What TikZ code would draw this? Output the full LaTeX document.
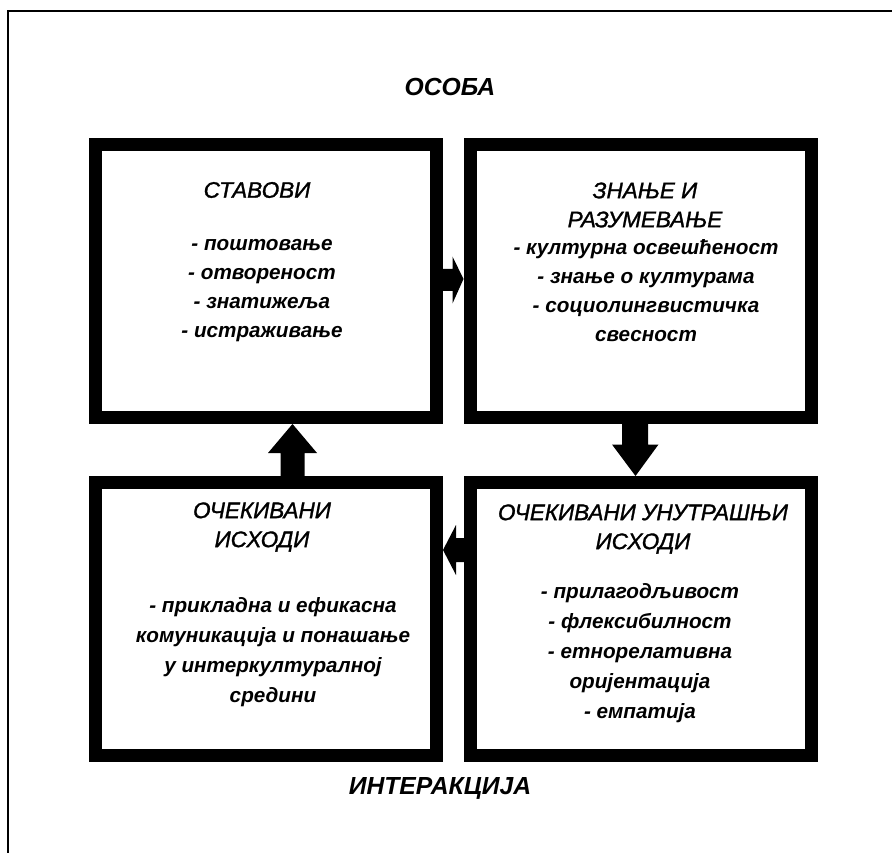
\documentclass[tikz,border=0pt]{standalone}
\usepackage{fontspec}
\setmainfont{Liberation Sans}
\newfontface\ttlface{Liberation Sans Italic}[FakeBold=1.3]
\usetikzlibrary{calc}
\begin{document}
\begin{tikzpicture}[x=1pt,y=-1pt,
  box/.style={draw, line width=13pt, minimum width=341pt, minimum height=273pt, inner sep=0pt},
  ttl/.style={font=\fontsize{22.5}{29}\selectfont\ttlface, align=center, inner sep=0pt},
  lst/.style={font=\fontsize{20.7}{29}\selectfont\bfseries\itshape, align=center, inner sep=0pt},
  lstw/.style={font=\fontsize{20.7}{30}\selectfont\bfseries\itshape, align=center, inner sep=0pt},
  head/.style={font=\fontsize{24.7}{28}\selectfont\bfseries\itshape, inner sep=0pt},
  blk/.style={fill=black}]
\useasboundingbox (0,0) rectangle (892,853);
\fill[white] (0,0) rectangle (892,853);
\draw[line width=1.3pt] (8,853) |- (892,11);

\node[head] (osoba) at (450,87) {ОСОБА};
\node[head] (inter) at (440,788) {ИНТЕРАКЦИЈА};

\node[box] (box1) at (266,281) {};
\node[box] (box2) at (640.5,281) {};
\node[box] (box3) at (266,619) {};
\node[box] (box4) at (640.5,619) {};

% texts
\node[ttl] (t1) at (257,190) {СТАВОВИ};
\node[lst] (l1) at (262,291) {- поштовање\\- отвореност\\- знатижеља\\- истраживање};

\node[ttl] (t2) at (645,205) {ЗНАЊЕ И\\РАЗУМЕВАЊЕ};
\node[lst] (l2) at (646,291) {- културна освешћеност\\- знање о културама\\- социолингвистичка\\свесност};

\node[ttl] (t3) at (262,527) {ОЧЕКИВАНИ\\ИСХОДИ};
\node[lstw] (l3) at (273,652) {- прикладна и ефикасна\\комуникација и понашање\\у интеркултуралној\\средини};

\node[ttl] (t4) at (643,529) {ОЧЕКИВАНИ УНУТРАШЊИ\\ИСХОДИ};
\node[lstw] (l4) at (640,653) {- прилагодљивост\\- флексибилност\\- етнорелативна\\оријентација\\- емпатија};

% block arrows (anchors are on the outer edges of the thick frames)
\fill[blk] ($(box1.east)+(-1,-12)$) -- ($(box1.east)+(9.5,-12)$) -- ++(0,-12.5) -- ($(box2.west)+(0,-2)$)
  -- ($(box1.east)+(9.5,22.5)$) -- ++(0,-12.5) -- ($(box1.east)+(-1,10)$) -- cycle;
\fill[blk] ($(box2.south)+(-18.5,-1)$) -- ($(box2.south)+(7.5,-1)$) -- ++(0,21.5) -- ++(10.5,0)
  -- ($(box4.north)+(-5,0)$) -- ($(box2.south)+(-28.5,20.5)$) -- ++(10,0) -- cycle;
\fill[blk] ($(box4.west)+(1,-81)$) -- ($(box4.west)+(-7.5,-81)$) -- ++(0,-13)
  -- ($(box3.east)+(0,-69)$) -- ($(box4.west)+(-7.5,-44)$) -- ++(0,-13)
  -- ($(box4.west)+(1,-57)$) -- cycle;
\fill[blk] ($(box3.north)+(14.5,1)$) -- ($(box3.north)+(14.5,-23)$) -- ++(-12.5,0)
  -- ($(box1.south)+(26.5,0)$) -- ($(box3.north)+(51,-23)$) -- ++(-12.5,0)
  -- ($(box3.north)+(38.5,1)$) -- cycle;
\end{tikzpicture}
\end{document}
